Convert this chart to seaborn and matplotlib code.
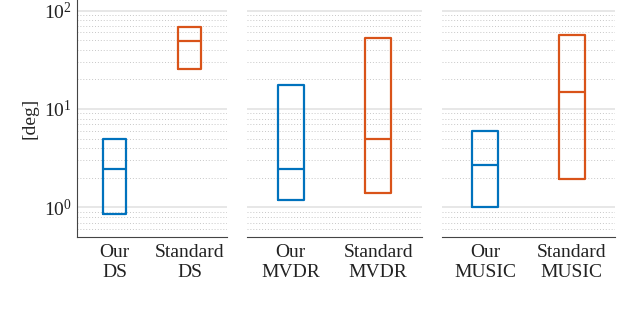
import numpy as np
import pandas as pd
import matplotlib
matplotlib.use("Agg")
import matplotlib.pyplot as plt
import seaborn as sns

# Box limits: lower quartile, median, upper quartile
groups = ["DS", "MVDR", "MUSIC"]
our_low = [0.86, 1.18, 1.0]
our_med = [2.48, 2.48, 2.68]
our_high = [5.0, 17.6, 6.0]
std_low = [25.4, 1.41, 1.92]
std_med = [49.4, 5.0, 15.0]
std_high = [68.0, 52.6, 57.0]

blue = "#0072BD"
orange = "#D95319"

sns.set_style("white")
plt.rcParams["font.family"] = ["Liberation Serif", "DejaVu Serif"]
plt.rcParams["mathtext.fontset"] = "stix"

# long form data: five points per box so the quartiles land exactly on the values
rows = []
for i, g in enumerate(groups):
    for lab, lo, md, hi in [("Our\n" + g, our_low[i], our_med[i], our_high[i]),
                            ("Standard\n" + g, std_low[i], std_med[i], std_high[i])]:
        for v in [lo, lo, md, hi, hi]:
            rows.append({"group": g, "method": lab, "kind": lab.split("\n")[0], "err": v})
df = pd.DataFrame(rows)

fig = plt.figure(figsize=(6.23, 3.25), dpi=100)
bottom = 88 / 325
height = 237 / 325
lefts = [77, 247, 442]
widths = [150, 175, 173]

for i, g in enumerate(groups):
    ax = fig.add_axes([lefts[i] / 623, bottom, widths[i] / 623, height])
    ax.set_yscale("log")
    sub = df[df["group"] == g]
    sns.boxplot(data=sub, x="method", y="err", hue="kind",
                palette={"Our": blue, "Standard": orange},
                fill=False, width=0.3, whis=0, showfliers=False, showcaps=False,
                linewidth=1.6, legend=False, dodge=False, ax=ax)
    ax.set_ylim(0.5, 128)
    ax.set_xlim(-0.5, 1.5)
    ax.grid(True, which="major", axis="y", color="#e3e3e3", linewidth=1.2)
    ax.grid(True, which="minor", axis="y", color="#c8c8c8", linewidth=0.7, linestyle=(0, (1, 2)))
    ax.set_axisbelow(True)
    ax.set_xlabel("")
    ax.tick_params(axis="both", length=0, labelsize=14, colors="#222222")
    ax.tick_params(axis="y", which="minor", length=0)
    for s in ["top", "right"]:
        ax.spines[s].set_visible(False)
    ax.spines["bottom"].set_color("#444444")
    if i == 0:
        ax.set_ylabel("[deg]", fontsize=14, labelpad=4)
        ax.spines["left"].set_color("#444444")
        ax.set_yticks([1, 10, 100])
    else:
        ax.set_ylabel("")
        ax.spines["left"].set_visible(False)
        ax.set_yticks([1, 10, 100])
        ax.set_yticklabels([])
    ax.tick_params(axis="x", pad=5)

fig.savefig("out.png", dpi=100)
